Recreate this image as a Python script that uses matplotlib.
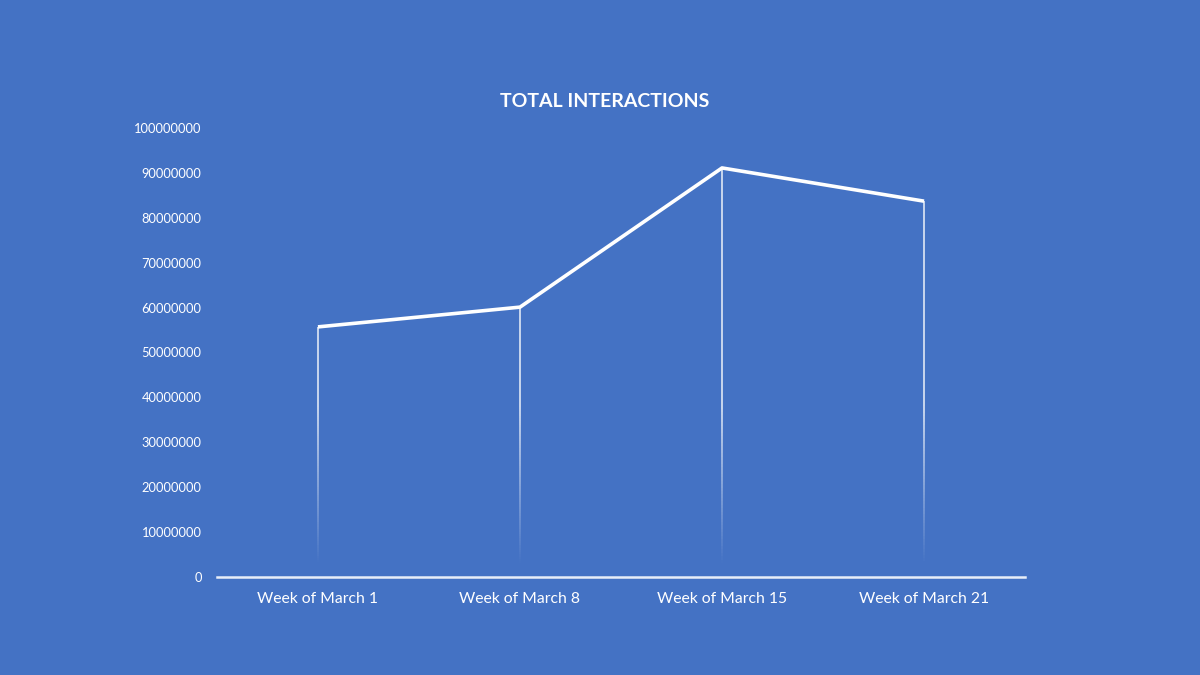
import numpy as np
import matplotlib
matplotlib.use("Agg")
import matplotlib.pyplot as plt
from matplotlib import rcParams
from matplotlib.collections import LineCollection

rcParams['font.family'] = ['Lato', 'DejaVu Sans']

weeks = ["Week of March 1", "Week of March 8", "Week of March 15", "Week of March 21"]
interactions = [55700000, 60100000, 91100000, 83700000]
yticks = np.arange(0, 100000001, 10000000)

bg = "#4472c4"

fig = plt.figure(figsize=(12, 6.75), dpi=100, facecolor=bg)
ax = fig.add_axes([0.1808, 0.1452, 0.6734, 0.6652], facecolor=bg)

x = np.arange(len(weeks))
ax.plot(x, interactions, color="white", linewidth=2.6, solid_capstyle="butt", zorder=4)

# drop lines fading out towards the baseline
ymax = 100000000
for xi, v in zip(x, interactions):
    ys = np.linspace(0, v, 120)
    segs = [[(xi, ys[i]), (xi, ys[i + 1])] for i in range(len(ys) - 1)]
    mid = (ys[:-1] + ys[1:]) / 2 / ymax
    alpha = np.clip((mid - 0.03) / 0.35, 0, 1) * 0.9
    cols = [(1, 1, 1, a) for a in alpha]
    ax.add_collection(LineCollection(segs, colors=cols, linewidths=1.1, zorder=2))

ax.set_xlim(-0.5, len(weeks) - 0.5)
ax.set_ylim(0, ymax)
ax.set_xticks(x)
ax.set_xticklabels(weeks)
ax.set_yticks(yticks)
ax.set_yticklabels([str(v) for v in yticks])
ax.tick_params(axis="both", length=0, colors="white")
ax.tick_params(axis="y", labelsize=9.3, pad=11)
ax.tick_params(axis="x", labelsize=11.3, pad=11)

for s in ["top", "right", "left"]:
    ax.spines[s].set_visible(False)
ax.spines["bottom"].set_color("#e8eef8")
ax.spines["bottom"].set_linewidth(1.8)
ax.spines["bottom"].set_zorder(5)

fig.text(0.504, 0.849, "TOTAL INTERACTIONS", color="white", fontsize=14,
         fontweight="bold", ha="center", va="center")

fig.savefig("out.png", dpi=100, facecolor=bg)
